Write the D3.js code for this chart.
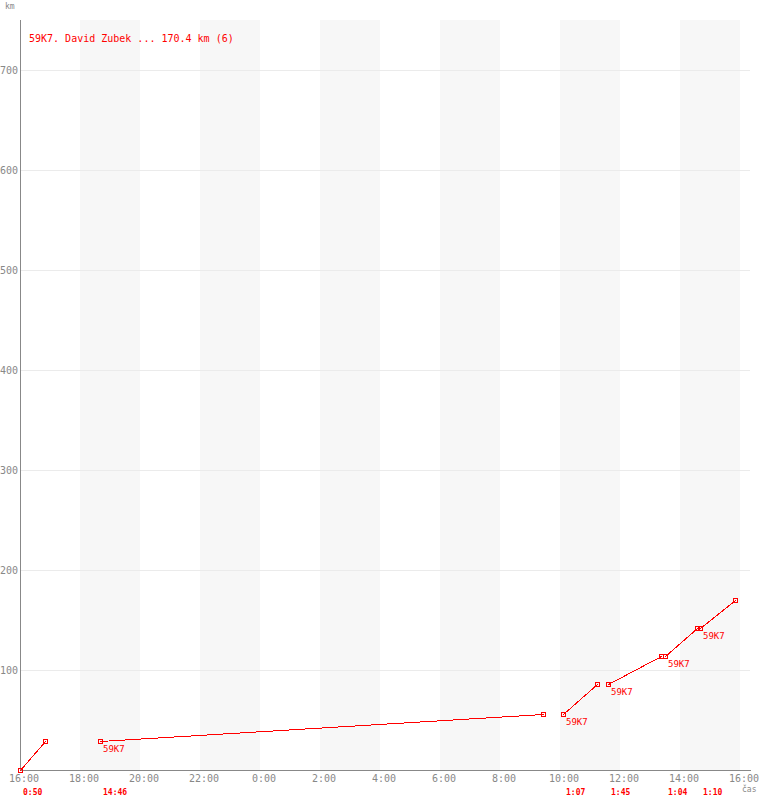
<!DOCTYPE html>
<html><head><meta charset="utf-8">
<script src="https://cdn.jsdelivr.net/npm/d3@7"></script>
<style>body{margin:0;background:#fff}svg{display:block}text{font-family:"DejaVu Sans Mono",monospace}</style>
</head><body>
<script>
// ---- data ----
const pilot = "59K7. David Zubek ... 170.4 km (6)";
const startTimes = ["16:00","18:40","10:06","11:36","13:30","14:40"];
const durations  = ["0:50","14:46","1:07","1:45","1:04","1:10"];
const startKm    = [0, 29, 56, 86, 114, 142];
const endKm      = [29, 56, 86, 114, 142, 170.4];
const segLabels  = ["", "59K7", "59K7", "59K7", "59K7", "59K7"];
const xTickLabels = ["16:00","18:00","20:00","22:00","0:00","2:00","4:00","6:00","8:00","10:00","12:00","14:00","16:00"];
const yTicks = [100,200,300,400,500,600,700];

// ---- layout ----
const W = 760, H = 800;
const svg = d3.select("body").append("svg").attr("width", W).attr("height", H);
const day0 = new Date(2020,0,1,16,0);
const day1 = new Date(2020,0,2,16,0);
const x = d3.scaleTime().domain([day0, day1]).range([20, 740]);
const y = d3.scaleLinear().domain([0, 750]).range([770, 20]);

function parseT(s){
  const [h,m] = s.split(":").map(Number);
  const d = h >= 16 ? 1 : 2;
  return new Date(2020,0,d,h,m);
}
function addDur(t, s){
  const [h,m] = s.split(":").map(Number);
  return new Date(t.getTime() + (h*60+m)*60000);
}
const segs = startTimes.map((s,i)=>{
  const t0 = parseT(s);
  return {t0, t1: addDur(t0, durations[i]), k0: startKm[i], k1: endKm[i], dur: durations[i], lab: segLabels[i]};
});
const px = v => Math.round(x(v)) + 0.5;
const py = v => Math.round(y(v)) + 0.5;

// background bands: 18-20, 22-0, ...
const bands = d3.range(1, 12, 2).map(i => d3.timeHour.offset(day0, i*2));
svg.append("g").selectAll("rect").data(bands).join("rect")
  .attr("x", d => x(d)).attr("y", 20)
  .attr("width", d => x(d3.timeHour.offset(d,2)) - x(d)).attr("height", 750)
  .attr("fill", "#f7f7f7");

// gridlines
svg.append("g").selectAll("line").data(yTicks).join("line")
  .attr("x1", 20).attr("x2", 750).attr("y1", d => py(d)).attr("y2", d => py(d))
  .attr("stroke", "#ebebeb").attr("shape-rendering","crispEdges");

// axes lines
svg.append("line").attr("x1",20.5).attr("x2",20.5).attr("y1",20).attr("y2",771)
  .attr("stroke","#888").attr("shape-rendering","crispEdges");
svg.append("line").attr("x1",20).attr("x2",751).attr("y1",770.5).attr("y2",770.5)
  .attr("stroke","#888").attr("shape-rendering","crispEdges");

// y labels
svg.append("g").selectAll("text").data(yTicks).join("text")
  .attr("x", 18).attr("y", d => y(d) + 4).attr("text-anchor","end")
  .attr("font-size", 10).attr("fill", "#888").text(d => d);

// x labels
const xTicks = d3.range(0, 13).map(i => d3.timeHour.offset(day0, i*2));
svg.append("g").selectAll("text").data(xTicks).join("text")
  .attr("x", d => x(d) + 4).attr("y", 782).attr("text-anchor","middle")
  .attr("font-size", 10).attr("fill", "#888").text((d,i) => xTickLabels[i]);

svg.append("text").attr("x",5).attr("y",9).attr("font-size",8).attr("fill","#888").text("km");
svg.append("text").attr("x",742).attr("y",792).attr("font-size",8).attr("fill","#888").text("čas");

// legend
svg.append("text").attr("x",29).attr("y",42).attr("font-size",10).attr("fill","red").text(pilot);

// segments
const g = svg.append("g");
g.selectAll("line.seg").data(segs).join("line").attr("class","seg")
  .attr("x1", d => px(d.t0)).attr("y1", d => py(d.k0))
  .attr("x2", d => px(d.t1)).attr("y2", d => py(d.k1))
  .attr("stroke","red").attr("stroke-width",1).attr("shape-rendering","crispEdges");

const pts = [];
segs.forEach(s => { pts.push({t:s.t0,k:s.k0}); pts.push({t:s.t1,k:s.k1}); });
g.selectAll("rect.m").data(pts).join("rect").attr("class","m")
  .attr("x", d => px(d.t) - 2).attr("y", d => py(d.k) - 2)
  .attr("width",4).attr("height",4).attr("fill","none").attr("stroke","red")
  .attr("shape-rendering","crispEdges");
g.selectAll("rect.c").data(pts).join("rect").attr("class","c")
  .attr("x", d => px(d.t) - 0.5).attr("y", d => py(d.k) - 0.5)
  .attr("width",1).attr("height",1).attr("fill","red");

g.selectAll("text.lab").data(segs.filter(s => s.lab)).join("text").attr("class","lab")
  .attr("x", d => px(d.t0) + 2.5).attr("y", d => py(d.k0) + 10.5)
  .attr("font-size", 9).attr("fill","red").text(d => d.lab);

g.selectAll("text.dur").data(segs).join("text").attr("class","dur")
  .attr("x", d => px(d.t0) + 2.5).attr("y", 795)
  .attr("font-size", 8).attr("font-weight","bold").attr("fill","red").text(d => d.dur);
</script>
</body></html>
